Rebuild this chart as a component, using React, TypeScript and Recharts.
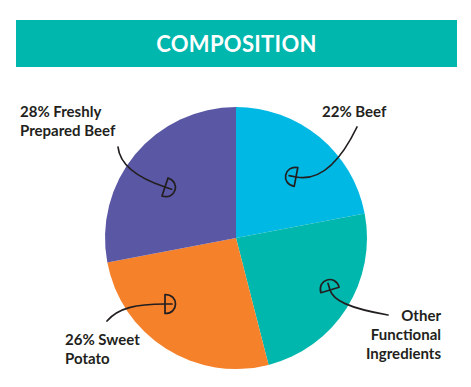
import React from "react";
import { PieChart, Pie, Cell } from "recharts";

const categories = ["Beef", "Other Functional Ingredients", "Sweet Potato", "Freshly Prepared Beef"];
const shares = [22, 24, 26, 28];
const labelLines = [["22% Beef"], ["Other", "Functional", "Ingredients"], ["26% Sweet", "Potato"], ["28% Freshly", "Prepared Beef"]];
const sliceColors = ["#00B8E4", "#00B7AE", "#F5812B", "#5A57A5"];
const title = "COMPOSITION";

const data = categories.map((name, i) => ({ name, value: shares[i] }));

// annotation layout: offsets from pie centre (px)
type Pt = [number, number];
const annotations: { anchor: "start" | "end"; text: Pt; s: Pt; c1: Pt; c2: Pt; e: Pt }[] = [
  { anchor: "start", text: [86, -121], s: [121, -111], c1: [106, -80], c2: [86, -56], e: [60, -61] },
  { anchor: "end", text: [205, 83], s: [152, 77], c1: [112, 70], c2: [97, 62], e: [94, 52] },
  { anchor: "start", text: [-171, 107], s: [-129, 83], c1: [-118, 70], c2: [-100, 66], e: [-71, 66] },
  { anchor: "start", text: [-216, -121], s: [-118, -91], c1: [-116, -72], c2: [-98, -60], e: [-71, -51] },
];

const renderLabel = (props: any) => {
  const { cx, cy, index } = props;
  const a = annotations[index];
  const lines = labelLines[index];
  const P = (p: Pt) => [cx + p[0], cy + p[1]];
  const [sx, sy] = P(a.s);
  const [c1x, c1y] = P(a.c1);
  const [c2x, c2y] = P(a.c2);
  const [ex, ey] = P(a.e);
  let ux = ex - c2x;
  let uy = ey - c2y;
  const len = Math.hypot(ux, uy) || 1;
  ux /= len;
  uy /= len;
  const vx = -uy;
  const vy = ux;
  const h = 9.5;
  const k = 14;
  const p1x = ex - vx * h, p1y = ey - vy * h;
  const p2x = ex + vx * h, p2y = ey + vy * h;
  const head = `M${p1x},${p1y} C${p1x + ux * k},${p1y + uy * k} ${p2x + ux * k},${p2y + uy * k} ${p2x},${p2y} Z`;
  const shaft = `M${sx},${sy} C${c1x},${c1y} ${c2x},${c2y} ${ex},${ey} L${ex + ux * 7},${ey + uy * 7}`;
  const [tx, ty] = P(a.text);
  return (
    <g key={`ann-${index}`}>
      <path d={shaft} fill="none" stroke="#231F20" strokeWidth={1.7} strokeLinecap="round" />
      <path d={head} fill="none" stroke="#231F20" strokeWidth={1.7} strokeLinejoin="round" />
      <text x={tx} y={ty} textAnchor={a.anchor} fill="#231F20" fontFamily="Lato, sans-serif" fontWeight={700} fontSize={15}>
        {lines.map((l, i) => (
          <tspan key={i} x={tx} dy={i === 0 ? 0 : 19}>
            {l}
          </tspan>
        ))}
      </text>
    </g>
  );
};

export default function App() {
  return (
    <div style={{ position: "absolute", left: 0, top: 0, width: 471, height: 387, background: "#fff" }}>
      <div
        style={{
          position: "absolute",
          left: 16,
          top: 20,
          width: 441,
          height: 47,
          background: "#00B7AE",
          color: "#fff",
          fontFamily: "Lato, sans-serif",
          fontWeight: 700,
          fontSize: 22,
          lineHeight: "47px",
          textAlign: "center",
          letterSpacing: 0.3,
        }}
      >
        {title}
      </div>
      <PieChart
        width={471}
        height={387}
        margin={{ top: 0, right: 0, bottom: 0, left: 0 }}
        style={{ position: "absolute", left: 0, top: 0 }}
      >
        <Pie
          data={data}
          dataKey="value"
          nameKey="name"
          cx={236}
          cy={238}
          outerRadius={131}
          startAngle={90}
          endAngle={-270}
          stroke="none"
          labelLine={false}
          label={renderLabel}
          isAnimationActive={false}
        >
          {data.map((d, i) => (
            <Cell key={d.name} fill={sliceColors[i]} />
          ))}
        </Pie>
      </PieChart>
    </div>
  );
}
